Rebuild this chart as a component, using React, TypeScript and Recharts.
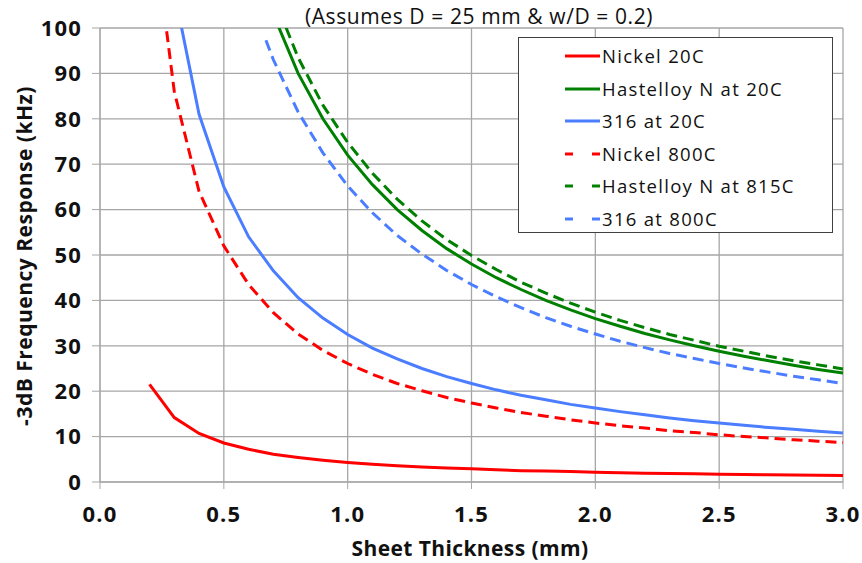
import React from 'react'
import { CartesianGrid, Legend, Line, LineChart, XAxis, YAxis } from 'recharts'

// sheet thickness (mm) sampled for each curve
const nickel20X = [0.2, 0.3, 0.4, 0.5, 0.6, 0.7, 0.8, 0.9, 1.0, 1.1, 1.2, 1.3, 1.4, 1.5, 1.6, 1.7, 1.8, 1.9, 2.0, 2.1, 2.2, 2.3, 2.4, 2.5, 2.6, 2.7, 2.8, 2.9, 3.0]
const nickel20Y = [21.5, 14.2, 10.7, 8.6, 7.2, 6.1, 5.4, 4.8, 4.3, 3.9, 3.6, 3.3, 3.1, 2.9, 2.7, 2.5, 2.4, 2.3, 2.15, 2.05, 1.95, 1.87, 1.79, 1.72, 1.65, 1.59, 1.54, 1.48, 1.43]

const hast20X = [0.7, 0.8, 0.9, 1.0, 1.1, 1.2, 1.3, 1.4, 1.5, 1.6, 1.7, 1.8, 1.9, 2.0, 2.1, 2.2, 2.3, 2.4, 2.5, 2.6, 2.7, 2.8, 2.9, 3.0]
const hast20Y = [103, 90, 80, 72, 65.5, 60, 55.4, 51.4, 48, 45, 42.4, 40, 37.9, 36, 34.3, 32.7, 31.3, 30, 28.8, 27.7, 26.7, 25.7, 24.8, 24.0]

const ss20X = [0.3, 0.4, 0.5, 0.6, 0.7, 0.8, 0.9, 1.0, 1.1, 1.2, 1.3, 1.4, 1.5, 1.6, 1.7, 1.8, 1.9, 2.0, 2.1, 2.2, 2.3, 2.4, 2.5, 2.6, 2.7, 2.8, 2.9, 3.0]
const ss20Y = [108, 81, 65, 54, 46.5, 40.6, 36.1, 32.5, 29.5, 27.1, 25.0, 23.2, 21.7, 20.3, 19.1, 18.1, 17.1, 16.3, 15.5, 14.8, 14.1, 13.5, 13.0, 12.5, 12.0, 11.6, 11.2, 10.8]

const nickel800X = [0.2, 0.3, 0.4, 0.5, 0.6, 0.7, 0.8, 0.9, 1.0, 1.1, 1.2, 1.3, 1.4, 1.5, 1.6, 1.7, 1.8, 1.9, 2.0, 2.1, 2.2, 2.3, 2.4, 2.5, 2.6, 2.7, 2.8, 2.9, 3.0]
const nickel800Y = [129, 86, 64, 52, 43.5, 37.3, 32.6, 29.0, 26.1, 23.7, 21.7, 20.1, 18.6, 17.4, 16.3, 15.3, 14.5, 13.7, 13.0, 12.4, 11.9, 11.3, 10.9, 10.4, 10.0, 9.7, 9.3, 9.0, 8.7]

const hast815X = [0.7, 0.8, 0.9, 1.0, 1.1, 1.2, 1.3, 1.4, 1.5, 1.6, 1.7, 1.8, 1.9, 2.0, 2.1, 2.2, 2.3, 2.4, 2.5, 2.6, 2.7, 2.8, 2.9, 3.0]
const hast815Y = [107, 93.5, 83, 74.8, 68, 62.3, 57.5, 53.4, 49.9, 46.8, 44, 41.6, 39.4, 37.4, 35.6, 34, 32.5, 31.2, 29.9, 28.8, 27.7, 26.7, 25.8, 24.9]

const ss800X = [0.67, 0.7, 0.8, 0.9, 1.0, 1.1, 1.2, 1.3, 1.4, 1.5, 1.6, 1.7, 1.8, 1.9, 2.0, 2.1, 2.2, 2.3, 2.4, 2.5, 2.6, 2.7, 2.8, 2.9, 3.0]
const ss800Y = [97.3, 93, 81.5, 72.5, 65.2, 59.3, 54.3, 50.2, 46.6, 43.5, 40.8, 38.4, 36.2, 34.3, 32.6, 31.0, 29.6, 28.3, 27.2, 26.1, 25.1, 24.2, 23.3, 22.5, 21.7]

const xTicks = [0, 0.5, 1.0, 1.5, 2.0, 2.5, 3.0]
const yTicks = [0, 10, 20, 30, 40, 50, 60, 70, 80, 90, 100]

const RED = '#FF0000'
const GREEN = '#008000'
const BLUE = '#4A7DFF'
const GRID = '#A6A6A6'
const FONT = '"Open Sans", "Noto Sans", sans-serif'

const zip = (xs: number[], ys: number[]) => xs.map((x, i) => ({ x, y: ys[i] }))

const series = [
  { name: 'Nickel 20C', color: RED, dashed: false, data: zip(nickel20X, nickel20Y) },
  { name: 'Hastelloy N at 20C', color: GREEN, dashed: false, data: zip(hast20X, hast20Y) },
  { name: '316 at 20C', color: BLUE, dashed: false, data: zip(ss20X, ss20Y) },
  { name: 'Nickel 800C', color: RED, dashed: true, data: zip(nickel800X, nickel800Y) },
  { name: 'Hastelloy N at 815C', color: GREEN, dashed: true, data: zip(hast815X, hast815Y) },
  { name: '316 at 800C', color: BLUE, dashed: true, data: zip(ss800X, ss800Y) },
]

const tickStyle = { fill: '#111', fontSize: 22, fontWeight: 700, fontFamily: FONT, letterSpacing: 1.2 }

function LegendBox() {
  return (
    <div style={{ width: 315, height: 196, boxSizing: 'border-box', border: '1.5px solid #404040', background: '#fff', paddingTop: 2 }}>
      {series.map((s) => (
        <div key={s.name} style={{ display: 'flex', alignItems: 'center', height: 32.5 }}>
          <svg width={83} height={10} style={{ flex: 'none' }}>
            {s.dashed ? (
              <>
                <line x1={46} y1={5} x2={54} y2={5} stroke={s.color} strokeWidth={3} />
                <line x1={73} y1={5} x2={81} y2={5} stroke={s.color} strokeWidth={3} />
              </>
            ) : (
              <line x1={46} y1={5} x2={81} y2={5} stroke={s.color} strokeWidth={3} />
            )}
          </svg>
          <span style={{ fontFamily: FONT, fontSize: 18.5, color: '#111', letterSpacing: 1.3, lineHeight: 1 }}>{s.name}</span>
        </div>
      ))}
    </div>
  )
}

export default function App() {
  return (
    <div style={{ position: 'absolute', left: 0, top: 0, width: 862, height: 563, background: '#fff' }}>
      <div
        style={{
          position: 'absolute',
          left: 0,
          width: 958,
          top: 4,
          textAlign: 'center',
          fontFamily: FONT,
          fontSize: 21,
          lineHeight: 1.2,
          letterSpacing: 0.6,
          color: '#111',
          zIndex: 2,
        }}
      >
        (Assumes D = 25 mm &amp; w/D = 0.2)
      </div>
      <LineChart width={862} height={563} margin={{ top: 28, right: 19, left: 40, bottom: 41 }}>
        <CartesianGrid stroke={GRID} strokeWidth={1.3} />
        <XAxis
          dataKey="x"
          type="number"
          domain={[0, 3]}
          ticks={xTicks}
          tickFormatter={(v) => Number(v).toFixed(1)}
          stroke={GRID}
          tickSize={7}
          tickMargin={17}
          height={40}
          tick={tickStyle}
          label={{
            content: () => (
              <text x={470} y={556} textAnchor="middle" fontFamily={FONT} fontSize={21} fontWeight={700} letterSpacing={0.4} fill="#111">
                Sheet Thickness (mm)
              </text>
            ),
          }}
        />
        <YAxis
          type="number"
          domain={[0, 100]}
          ticks={yTicks}
          allowDataOverflow
          stroke={GRID}
          tickSize={8}
          tickMargin={10}
          width={60}
          tick={tickStyle}
          label={{
            content: () => (
              <text
                x={26}
                y={256}
                transform="rotate(-90 26 256)"
                textAnchor="middle"
                dominantBaseline="middle"
                fontFamily={FONT}
                fontSize={21}
                fontWeight={700}
                letterSpacing={0.5}
                fill="#111"
              >
                -3dB Frequency Response (kHz)
              </text>
            ),
          }}
        />
        <Legend
          layout="vertical"
          align="center"
          verticalAlign="middle"
          wrapperStyle={{ left: 518, top: 37, width: 315, height: 196 }}
          content={() => <LegendBox />}
        />
        {series.map((s) => (
          <Line
            key={s.name}
            data={s.data}
            dataKey="y"
            name={s.name}
            type="linear"
            stroke={s.color}
            strokeWidth={3}
            strokeDasharray={s.dashed ? '11 6' : undefined}
            dot={false}
            activeDot={false}
            isAnimationActive={false}
          />
        ))}
      </LineChart>
    </div>
  )
}
